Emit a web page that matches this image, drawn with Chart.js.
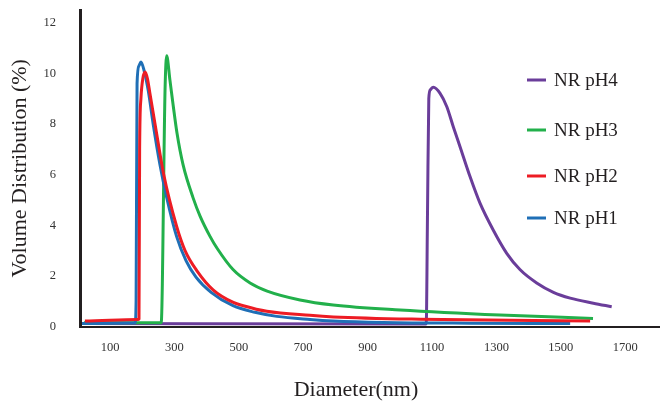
<!DOCTYPE html>
<html>
<head>
<meta charset="utf-8">
<script src="https://cdn.jsdelivr.net/npm/chart.js@4.4.1/dist/chart.umd.min.js"></script>
<style>
  html, body { margin: 0; padding: 0; background: #ffffff; }
  #wrap { width: 660px; height: 404px; }
</style>
</head>
<body>
<div id="wrap"><canvas id="c" width="660" height="404"></canvas></div>
<script>
// ---- data ----
const seriesNames = ["NR pH1", "NR pH2", "NR pH3", "NR pH4"];
const legendOrder = ["NR pH4", "NR pH3", "NR pH2", "NR pH1"];

const diamPH1 = [13, 178, 181, 184, 190, 196, 206, 219, 234, 255, 276, 307, 336, 367, 414, 482, 550, 618, 721, 793, 948, 1218, 1529];
const volPH1  = [0.12, 0.15, 1.0, 9.6, 10.3, 10.45, 10.1, 9.3, 8.0, 6.4, 5.1, 3.55, 2.6, 1.95, 1.35, 0.82, 0.56, 0.40, 0.28, 0.22, 0.16, 0.13, 0.12];

const diamPH2 = [22, 187, 190, 192, 196, 202, 209, 216, 224, 245, 266, 307, 333, 370, 420, 483, 514, 587, 721, 794, 1063, 1591];
const volPH2  = [0.22, 0.28, 0.3, 7.0, 9.0, 9.8, 10.05, 9.8, 9.2, 7.6, 6.05, 3.95, 3.0, 2.2, 1.45, 0.95, 0.82, 0.60, 0.44, 0.38, 0.29, 0.22];

const diamPH3 = [19, 259, 271, 276, 286, 296, 308, 327, 358, 380, 411, 433, 482, 535, 588, 690, 793, 1001, 1311, 1600];
const volPH3  = [0.15, 0.15, 9.4, 10.69, 9.74, 8.75, 7.64, 6.38, 5.08, 4.35, 3.55, 3.08, 2.25, 1.72, 1.40, 1.05, 0.85, 0.65, 0.45, 0.32];

const diamPH4 = [19, 1082, 1086, 1090, 1095, 1104, 1125, 1146, 1166, 1187, 1218, 1249, 1290, 1332, 1373, 1425, 1477, 1529, 1601, 1658];
const volPH4  = [0.12, 0.1, 4.5, 9.0, 9.35, 9.45, 9.21, 8.68, 7.89, 7.10, 5.92, 4.87, 3.81, 2.89, 2.25, 1.72, 1.35, 1.12, 0.92, 0.78];

const xTickValues = [100, 300, 500, 700, 900, 1100, 1300, 1500, 1700];
const yTickValues = [0, 2, 4, 6, 8, 10, 12];

const colors = { "NR pH1": "#1f6fb6", "NR pH2": "#ed1c24", "NR pH3": "#22b04b", "NR pH4": "#6a3d9a" };

// ---- build datasets ----
function pts(xs, ys) { return xs.map((x, i) => ({ x: x, y: ys[i] })); }
const seriesData = {
  "NR pH1": pts(diamPH1, volPH1),
  "NR pH2": pts(diamPH2, volPH2),
  "NR pH3": pts(diamPH3, volPH3),
  "NR pH4": pts(diamPH4, volPH4)
};
const drawOrder = { "NR pH2": 0, "NR pH1": 1, "NR pH3": 2, "NR pH4": 3 };

const datasets = seriesNames.map(n => ({
  label: n,
  data: seriesData[n],
  borderColor: colors[n],
  backgroundColor: colors[n],
  borderWidth: 3,
  pointRadius: 0,
  fill: false,
  cubicInterpolationMode: 'monotone',
  order: drawOrder[n]
}));

const textColor = "#231f20";
const serif = "'Liberation Serif', 'Times New Roman', serif";

// custom legend + x title
const extras = {
  id: 'extras',
  afterDraw(chart) {
    const ctx = chart.ctx;
    ctx.save();
    const legY = [80, 130, 176, 218];
    ctx.font = "19px " + serif;
    ctx.textBaseline = 'middle';
    ctx.textAlign = 'left';
    legendOrder.forEach((n, i) => {
      ctx.strokeStyle = colors[n];
      ctx.lineWidth = 3;
      ctx.beginPath();
      ctx.moveTo(527, legY[i]);
      ctx.lineTo(546, legY[i]);
      ctx.stroke();
      ctx.fillStyle = textColor;
      ctx.fillText(n, 554, legY[i] + 1);
    });
    ctx.font = "22px " + serif;
    ctx.textAlign = 'center';
    ctx.fillStyle = textColor;
    ctx.fillText("Diameter(nm)", 356, 390);
    ctx.restore();
  }
};

new Chart(document.getElementById('c'), {
  type: 'line',
  data: { datasets: datasets },
  options: {
    responsive: false,
    animation: false,
    layout: { padding: { top: 10, right: 0, left: 0, bottom: 0 } },
    plugins: { legend: { display: false }, tooltip: { enabled: false } },
    scales: {
      x: {
        type: 'linear',
        min: 6.8,
        max: 1808,
        grid: { display: false, drawTicks: false },
        border: { display: true, color: textColor, width: 2 },
        ticks: { color: "#333333", font: { family: serif, size: 12.5 }, padding: 14, maxRotation: 0,
                 callback: (v) => String(v) },
        afterBuildTicks(scale) { scale.ticks = xTickValues.map(v => ({ value: v })); },
        afterFit(scale) { scale.height = 77.5; scale.paddingLeft = 0; scale.paddingRight = 0; }
      },
      y: {
        type: 'linear',
        min: 0,
        max: 12.5,
        grid: { display: false, drawTicks: false },
        border: { display: true, color: textColor, width: 3 },
        ticks: { color: "#333333", font: { family: serif, size: 12.5 }, padding: 24,
                 callback: (v) => String(v) },
        afterBuildTicks(scale) { scale.ticks = yTickValues.map(v => ({ value: v })); },
        afterFit(scale) { scale.width = 80; scale.paddingTop = 0; scale.paddingBottom = 0; },
        title: {
          display: true,
          text: "Volume Distribution (%)",
          color: textColor,
          font: { family: serif, size: 22 },
          padding: { top: 7, bottom: 0 }
        }
      }
    }
  },
  plugins: [extras]
});
</script>
</body>
</html>
